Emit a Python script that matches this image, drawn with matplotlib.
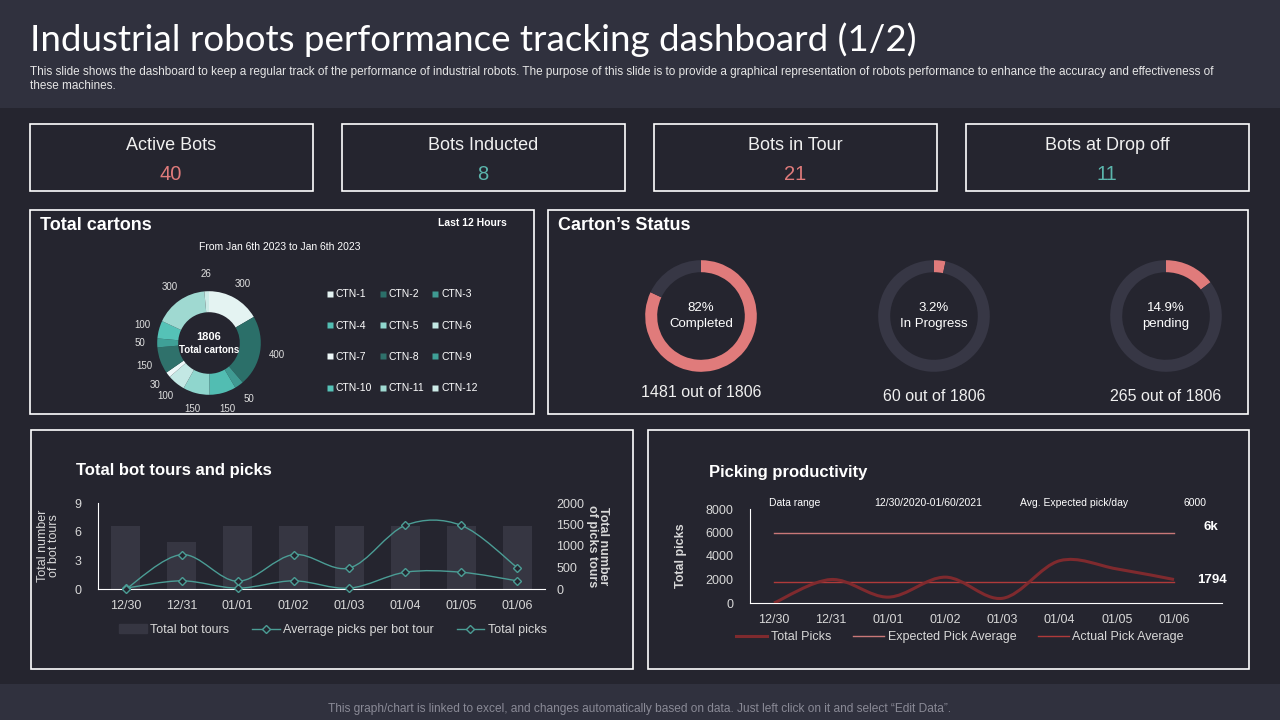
import matplotlib
matplotlib.use("Agg")
import matplotlib.pyplot as plt
from matplotlib.patches import Rectangle, PathPatch
from matplotlib.path import Path
from matplotlib.lines import Line2D
import numpy as np

plt.rcParams['font.family'] = ['Liberation Sans', 'DejaVu Sans']

# ---- data ----
kpi_labels = ['Active Bots', 'Bots Inducted', 'Bots in Tour', 'Bots at Drop off']
kpi_values = ['40', '8', '21', '11']

ctn_labels = ['CTN-%d' % i for i in range(1, 13)]
ctn_values = [300, 400, 50, 150, 150, 100, 30, 150, 50, 100, 300, 26]
ctn_total = 1806

status_names = ['Completed', 'In Progress', 'pending']
status_counts = [1481, 60, 265]
status_pct = ['82%', '3.2%', '14.9%']

days = ['12/30', '12/31', '01/01', '01/02', '01/03', '01/04', '01/05', '01/06']
bot_tours = [6.6, 4.9, 6.6, 6.6, 6.6, 6.6, 6.6, 6.6]
avg_picks_per_tour = [20, 190, 20, 190, 20, 390, 390, 190]
total_picks_tours = [0, 800, 180, 800, 490, 1480, 1480, 500]

total_picks = [0, 2000, 500, 2200, 400, 3600, 2900, 2000]
expected_avg = 6000
actual_avg = 1794

# ---- colours ----
BG = '#25252f'
BAND = '#30313e'
PINK = '#e07b7b'
TEAL = '#5bb5ac'
TRACK = '#373745'
ctn_colors = ['#e4f3f2', '#2b6f69', '#3f9a92', '#52bdb2', '#8fd6cd', '#c3e8e4',
              '#eef8f8', '#2f716b', '#3fa097', '#55c2b7', '#9fd9d1', '#cdebe7']

W, H = 1280, 720
fig = plt.figure(figsize=(12.8, 7.2), dpi=100)
fig.patch.set_facecolor(BG)


def rect(x, y, w, h):
    return [x / W, 1 - (y + h) / H, w / W, h / H]


def ftext(x, y, s, **kw):
    kw.setdefault('color', 'white')
    kw.setdefault('va', 'center')
    fig.text(x / W, 1 - y / H, s, **kw)


def box(x, y, w, h, fill=None, edge='white', lw=1.2):
    r = Rectangle((x / W, 1 - (y + h) / H), w / W, h / H, transform=fig.transFigure,
                  facecolor=fill if fill else 'none', edgecolor=edge if edge else 'none',
                  lw=lw, zorder=0)
    fig.patches.append(r)


def smooth(ax, xs, ys, **kw):
    # Catmull-Rom curve through the points, drawn as cubic Bezier segments
    pts = np.column_stack([xs, ys]).astype(float)
    ext = np.vstack([pts[0], pts, pts[-1]])
    verts = [tuple(pts[0])]
    codes = [Path.MOVETO]
    for i in range(1, len(ext) - 2):
        p0, p1, p2, p3 = ext[i - 1], ext[i], ext[i + 1], ext[i + 2]
        c1 = p1 + (p2 - p0) / 6.0
        c2 = p2 - (p3 - p1) / 6.0
        verts += [tuple(c1), tuple(c2), tuple(p2)]
        codes += [Path.CURVE4] * 3
    ax.add_patch(PathPatch(Path(verts, codes), fill=False, **kw))


# header and footer bands
box(0, 0, 1280, 108, fill=BAND, edge=None)
box(0, 684, 1280, 36, fill=BAND, edge=None)
ftext(30, 40, 'Industrial robots performance tracking dashboard (1/2)', fontsize=26.5,
      family=['Lato', 'DejaVu Sans'])
ftext(30, 72, 'This slide shows the dashboard to keep a regular track of the performance of industrial robots. '
      'The purpose of this slide is to provide a graphical representation of robots performance to enhance '
      'the accuracy and effectiveness of', fontsize=8.5, color='#e6e6e6')
ftext(30, 86, 'these machines.', fontsize=8.5, color='#e6e6e6')
ftext(640, 709, 'This graph/chart is linked to excel, and changes automatically based on data. '
      'Just left click on it and select \u201cEdit Data\u201d.', fontsize=8.6, color='#8a8a96', ha='center')

# KPI boxes
kpi_x = [30, 342, 654, 966]
kpi_colors = [PINK, TEAL, PINK, TEAL]
for x, lab, val, c in zip(kpi_x, kpi_labels, kpi_values, kpi_colors):
    box(x, 124, 283, 67)
    ftext(x + 141, 146, lab, fontsize=13, ha='center', color='#f0f0f0')
    ftext(x + 141, 175, val, fontsize=14.5, ha='center', color=c)

# panels
box(30, 210, 504, 204)
box(548, 210, 700, 204)
box(31, 430, 602, 239)
box(648, 430, 601, 239)

# ---- Total cartons ----
ftext(40, 226, 'Total cartons', fontsize=13, fontweight='bold')
ftext(438, 223, 'Last 12 Hours', fontsize=7.5, fontweight='bold')
ftext(280, 247, 'From Jan 6th 2023 to Jan 6th 2023', fontsize=7.5, ha='center')

ax = fig.add_axes(rect(139, 273, 140, 140))
wedges, _ = ax.pie(ctn_values, colors=ctn_colors, startangle=90, counterclock=False, radius=0.74,
                   wedgeprops=dict(width=0.3, edgecolor='none'))
ax.set_xlim(-1, 1)
ax.set_ylim(-1, 1)
ang0 = 90.0
for v in ctn_values:
    mid = np.deg2rad(ang0 - v / ctn_total * 360 / 2)
    ang0 -= v / ctn_total * 360
    ax.text(0.98 * np.cos(mid), 0.98 * np.sin(mid), str(v), ha='center', va='center',
            fontsize=7, color='#e0e0e0')
ax.text(0, 0.09, str(ctn_total), ha='center', va='center', fontsize=8, fontweight='bold', color='white')
ax.text(0, -0.1, 'Total cartons', ha='center', va='center', fontsize=7, fontweight='bold', color='white')

order = [0, 3, 6, 9, 1, 4, 7, 10, 2, 5, 8, 11]
handles = [Line2D([], [], marker='s', ls='none', markersize=4, markerfacecolor=ctn_colors[i],
                  markeredgecolor='none') for i in order]
fig.legend(handles, [ctn_labels[i] for i in order], ncol=3, loc='upper left',
           bbox_to_anchor=(318 / W, 1 - 280 / H), frameon=False, fontsize=7.5, labelcolor='white',
           handlelength=0.5, handletextpad=0.3, columnspacing=0.8, labelspacing=2.05)

# ---- Carton's Status ----
ftext(558, 226, 'Carton\u2019s Status', fontsize=13, fontweight='bold')
centers = [701, 934, 1166]
below_y = [393, 396, 396]
for cx, by, name, cnt, pct in zip(centers, below_y, status_names, status_counts, status_pct):
    a = fig.add_axes(rect(cx - 60, 256, 120, 120))
    a.pie([cnt, ctn_total - cnt], colors=[PINK, TRACK], startangle=90, counterclock=False,
          radius=0.93, wedgeprops=dict(width=0.2, edgecolor='none'))
    a.set_xlim(-1, 1)
    a.set_ylim(-1, 1)
    a.text(0, 0.14, pct, ha='center', va='center', fontsize=9.5, color='white')
    a.text(0, -0.13, name, ha='center', va='center', fontsize=9.5, color='white')
    ftext(cx, by, '%d out of %d' % (cnt, ctn_total), fontsize=11.5, ha='center', color='#f0f0f0')

# ---- Total bot tours and picks ----
ftext(76, 471, 'Total bot tours and picks', fontsize=12, fontweight='bold')
x = np.arange(len(days))
ax1 = fig.add_axes(rect(98, 503, 447, 86))
ax1.set_facecolor('none')
ax1.bar(x, bot_tours, width=0.52, color='#363642', zorder=1)
ax1.set_xlim(-0.5, 7.5)
ax1.set_ylim(0, 9)
ax1.set_yticks([0, 3, 6, 9])
ax1.set_xticks(x)
ax1.set_xticklabels(days)
ax1.tick_params(length=0, colors='#d8d8d8', labelsize=9, pad=8)
ax1.tick_params(axis='y', pad=12)
for s in ['top', 'right']:
    ax1.spines[s].set_visible(False)
ax1.spines['left'].set_color('white')
ax1.spines['bottom'].set_color('white')
ax1.set_ylabel('Total number\nof bot tours', fontsize=9, color='#d8d8d8', labelpad=10, linespacing=0.95)

ax2 = ax1.twinx()
ax2.set_ylim(0, 2000)
ax2.set_yticks([0, 500, 1000, 1500, 2000])
ax2.tick_params(length=0, colors='#d8d8d8', labelsize=9, pad=8)
for s in ax2.spines.values():
    s.set_visible(False)
LT = '#4b9d95'
smooth(ax2, x, avg_picks_per_tour, edgecolor=LT, lw=1, zorder=3)
smooth(ax2, x, total_picks_tours, edgecolor=LT, lw=1, zorder=3)
ax2.plot(x, avg_picks_per_tour, ls='none', marker='D', markersize=4, markerfacecolor=BG,
         markeredgecolor=LT, zorder=4, clip_on=False)
ax2.plot(x, total_picks_tours, ls='none', marker='D', markersize=4, markerfacecolor=BG,
         markeredgecolor=LT, zorder=4, clip_on=False)
ax2.set_ylabel('Total number\nof picks tours', fontsize=9, color='#d8d8d8', fontweight='bold',
               rotation=-90, labelpad=18, linespacing=0.95)

h1 = [Rectangle((0, 0), 1, 1, color='#363642'),
      Line2D([], [], color=LT, lw=1, marker='D', markersize=4, markerfacecolor=BG),
      Line2D([], [], color=LT, lw=1, marker='D', markersize=4, markerfacecolor=BG)]
fig.legend(h1, ['Total bot tours', 'Averrage picks per bot tour', 'Total picks'], ncol=3,
           loc='center', bbox_to_anchor=(333 / W, 1 - 630 / H), frameon=False, fontsize=9,
           labelcolor='#d8d8d8', handlelength=2.2, handletextpad=0.3, columnspacing=1.8)

# ---- Picking productivity ----
ftext(709, 473, 'Picking productivity', fontsize=12, fontweight='bold')
ax3 = fig.add_axes(rect(750, 509, 472, 94))
ax3.set_facecolor('none')
ax3.set_xlim(-0.42, 7.84)
ax3.set_ylim(0, 8000)
ax3.set_yticks([0, 2000, 4000, 6000, 8000])
ax3.set_xticks(x)
ax3.set_xticklabels(days)
ax3.tick_params(length=0, colors='#d8d8d8', labelsize=9, pad=8)
ax3.tick_params(axis='y', pad=12)
for s in ['top', 'right']:
    ax3.spines[s].set_visible(False)
ax3.spines['left'].set_color('white')
ax3.spines['bottom'].set_color('white')
ax3.set_ylabel('Total picks', fontsize=9, color='#d8d8d8', fontweight='bold', labelpad=13)
C_TOT, C_EXP, C_ACT = '#7f2a2e', '#c97878', '#b03a3a'
ax3.plot([x[0], x[-1]], [expected_avg, expected_avg], color=C_EXP, lw=1)
ax3.plot([x[0], x[-1]], [actual_avg, actual_avg], color=C_ACT, lw=1)
smooth(ax3, x, total_picks, edgecolor=C_TOT, lw=2.2, zorder=3)
ftext(769, 503, 'Data range', fontsize=7.5)
ftext(874, 503, '12/30/2020-01/60/2021', fontsize=7.5)
ftext(1020, 503, 'Avg. Expected pick/day', fontsize=7.5)
ftext(1183, 503, '6000', fontsize=7.5)
ftext(1204, 527, '6k', fontsize=9.5, fontweight='bold')
ftext(1197, 580, str(actual_avg), fontsize=9.5, fontweight='bold')

h2 = [Line2D([], [], color=C_TOT, lw=2.2), Line2D([], [], color=C_EXP, lw=1),
      Line2D([], [], color=C_ACT, lw=1)]
fig.legend(h2, ['Total Picks', 'Expected Pick Average', 'Actual Pick Average'], ncol=3,
           loc='center', bbox_to_anchor=(960 / W, 1 - 637 / H), frameon=False, fontsize=9,
           labelcolor='#d8d8d8', handlelength=2.5, handletextpad=0.3, columnspacing=1.7)

fig.savefig('out.png', dpi=100, facecolor=fig.get_facecolor())
